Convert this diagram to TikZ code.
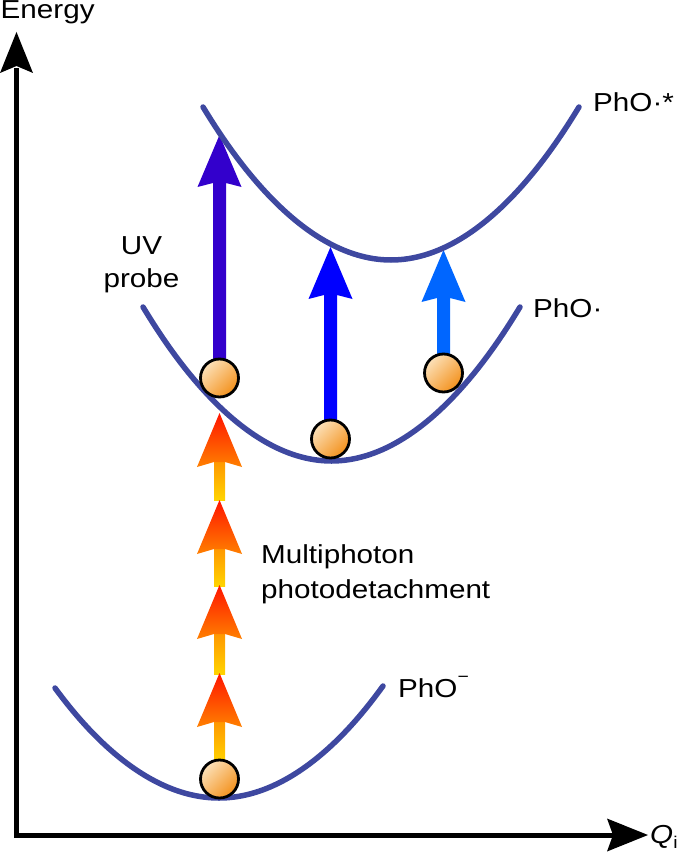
\documentclass[tikz,border=0pt]{standalone}
\usepackage{fontspec}
\setmainfont{Liberation Sans}[FakeStretch=1.14]
\definecolor{curvecol}{RGB}{62,72,160}
\definecolor{uvA}{RGB}{51,0,204}
\definecolor{uvB}{RGB}{0,0,255}
\definecolor{uvC}{RGB}{0,102,255}
\definecolor{ylw}{RGB}{255,212,0}
\definecolor{orgA}{RGB}{255,150,0}
\definecolor{orgB}{RGB}{255,128,0}
\definecolor{rd}{RGB}{255,20,0}
\definecolor{ballhi}{RGB}{252,225,185}
\definecolor{balllo}{RGB}{243,145,28}
\newcommand\uvarrow[4]{%
  \fill[#4] (#1,#2) -- ({#1+22},{#2+52}) -- ({#1+6.5},{#2+48}) -- ({#1+6.5},#3)
     -- ({#1-6.5},#3) -- ({#1-6.5},{#2+48}) -- ({#1-22},{#2+52}) -- cycle;}
\newcommand\mparrow[3]{%
  \shade[top color=orgA, bottom color=ylw] ({#1-5.5},#3) rectangle ({#1+5.5},{#2+48});
  \shade[top color=rd, bottom color=orgB] (#1,#2) -- ({#1+22.5},{#2+54}) -- ({#1+5.5},{#2+49})
     -- ({#1-5.5},{#2+49}) -- ({#1-22.5},{#2+54}) -- cycle;}
\begin{document}
\begin{tikzpicture}[x=1pt,y=-1pt,
  pes/.style={draw=curvecol, line width=5.5pt, line cap=round},
  axisline/.style={draw=black, line width=5pt},
  ballnode/.style={circle, draw=black, line width=2.8pt, minimum size=38pt, inner sep=0pt,
                   top color=ballhi, bottom color=balllo, shading angle=45},
  lbl/.style={anchor=base west, inner sep=0pt, font=\fontsize{26}{30}\selectfont},
  clbl/.style={lbl, anchor=base}]
\useasboundingbox (0,0) rectangle (685,853);
% axes
\coordinate (ytop) at (16.5,68);
\coordinate (origin) at (16.5,835);
\coordinate (xend) at (614,835);
\draw[axisline] (ytop) -- (origin) -- (xend);
\fill (16.5,32) -- (33,73) -- (16.5,66) -- (0,73) -- cycle;
\fill (648,835) -- (607,851.5) -- (613,835) -- (607,818.5) -- cycle;
% arrows
\uvarrow{219.5}{135}{378}{uvA}
\uvarrow{330.5}{247}{439}{uvB}
\uvarrow{443.5}{250}{373}{uvC}
\mparrow{219.5}{413}{500}
\mparrow{219.5}{500}{586}
\mparrow{219.5}{585}{674}
\mparrow{219.5}{673}{762}
% potential curves
\draw[pes] (203,107) parabola bend (391,260) (579,107);
\draw[pes] (143,307) parabola bend (331.5,461) (520,307);
\draw[pes] (55,688) parabola bend (219,798) (383,686);
% balls
\node[ballnode] (g0) at (219.5,779) {};
\node[ballnode] (g1) at (219.5,378) {};
\node[ballnode] (g2) at (330.5,439) {};
\node[ballnode] (g3) at (443.5,373) {};
% labels
\node[lbl] (energy) at (0.5,19) {Energy};
\node[lbl] (pstar) at (593,112) {PhO·*};
\node[lbl] (prad) at (533,317) {PhO·};
\node[lbl] (pneg) at (398,697) {PhO\raisebox{15pt}{\fontsize{17}{17}\selectfont −}};
\node[clbl] (uv) at (141.5,254) {UV};
\node[clbl] (probe) at (141.5,287) {probe};
\node[lbl] (multi) at (261,563) {Multiphoton};
\node[lbl] (photo) at (261,598) {photodetachment};
\node[lbl] (qi) at (650,843) {\itshape Q\raisebox{-5pt}{\upshape\fontsize{17}{17}\selectfont i}};
\end{tikzpicture}
\end{document}
